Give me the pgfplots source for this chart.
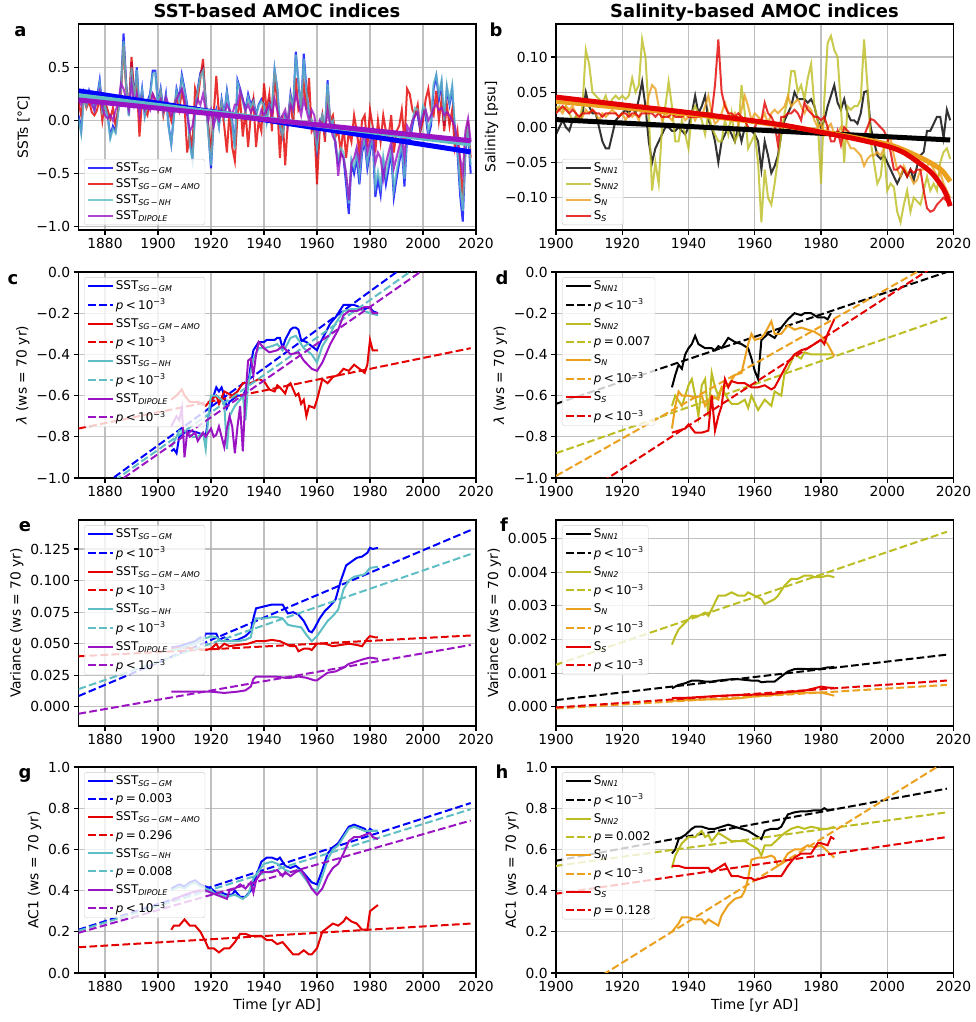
\documentclass[border=0pt]{standalone}
\usepackage{fontspec}
\setmainfont{DejaVu Sans}
\usepackage{pgfplots}
\pgfplotsset{compat=1.18}
\usepackage{pgfplotstable}

\definecolor{cblue}{RGB}{0,0,255}
\definecolor{cred}{RGB}{228,0,0}
\definecolor{ccyan}{RGB}{95,190,195}
\definecolor{cpurp}{RGB}{155,20,195}
\definecolor{colive}{RGB}{188,189,34}
\definecolor{corange}{RGB}{235,160,30}
\definecolor{gridc}{RGB}{176,176,176}
\definecolor{legc}{RGB}{204,204,204}

\newcommand{\ticksize}{\fontsize{13.9}{16}\selectfont}
\newcommand{\legsize}{\fontsize{12}{13.5}\selectfont}
\newcommand{\sub}[1]{\textsubscript{\itshape #1}}
\newcommand{\plt}{\textit{p}\hspace{0.2em}<\hspace{0.2em}10\textsuperscript{−3}}
\newcommand{\peq}[1]{\textit{p}\hspace{0.2em}=\hspace{0.2em}#1}

\pgfplotstableread{
year blue red cyan purple
1870 0.05 0.18 0.02 0.20
1871 -0.10 0.05 -0.12 0.15
1872 0.25 0.22 0.22 0.25
1873 0.15 0.12 0.14 0.18
1874 0.28 0.18 0.26 0.22
1875 0.20 0.08 0.18 0.15
1876 0.10 0.05 0.10 0.10
1877 0.22 0.10 0.20 0.20
1878 0.38 0.22 0.35 0.28
1879 0.10 0.00 0.08 0.12
1880 0.15 0.18 0.14 0.05
1881 0.05 0.10 0.04 0.02
1882 -0.15 0.02 -0.17 0.05
1883 -0.05 0.12 -0.08 0.00
1884 -0.10 -0.05 -0.12 0.10
1885 0.10 0.12 0.08 0.15
1886 0.30 0.25 0.28 0.35
1887 0.82 0.70 0.75 0.30
1888 0.35 0.30 0.32 0.20
1889 0.05 0.10 0.04 0.10
1890 0.55 0.60 0.50 0.35
1891 0.20 0.25 0.18 0.15
1892 0.50 0.35 0.48 0.25
1893 0.10 -0.15 0.08 0.05
1894 0.30 0.20 0.28 0.20
1895 0.05 0.10 0.04 0.10
1896 0.18 0.05 0.16 0.15
1897 0.25 0.20 0.22 0.10
1898 0.47 0.25 0.44 0.25
1899 0.47 0.18 0.45 0.20
1900 0.15 0.10 0.14 0.15
1901 0.30 0.25 0.28 0.20
1902 0.10 0.05 0.08 0.10
1903 0.25 0.18 0.22 0.22
1904 -0.05 0.10 -0.06 0.15
1905 -0.22 0.00 -0.22 0.05
1906 0.05 0.15 0.04 0.10
1907 0.30 0.22 0.28 0.20
1908 0.20 0.10 0.18 0.25
1909 0.43 0.28 0.40 0.30
1910 0.30 0.15 0.28 0.20
1911 0.15 -0.30 0.12 0.05
1912 -0.20 -0.12 -0.22 -0.10
1913 -0.35 -0.25 -0.38 -0.05
1914 0.10 0.30 0.08 0.10
1915 0.30 0.20 0.28 0.20
1916 0.45 0.40 0.42 0.15
1917 0.50 0.58 0.47 0.25
1918 0.20 0.15 0.18 0.10
1919 -0.10 -0.05 -0.12 0.00
1920 -0.45 -0.30 -0.42 0.10
1921 0.00 0.05 -0.02 -0.05
1922 0.10 0.42 0.08 0.05
1923 -0.05 0.05 -0.06 0.00
1924 0.20 0.15 0.18 0.10
1925 0.05 -0.05 0.04 0.05
1926 0.28 -0.30 0.26 0.15
1927 0.10 0.10 0.08 0.10
1928 0.00 -0.25 -0.02 0.05
1929 -0.25 -0.38 -0.27 0.15
1930 0.38 0.05 0.36 0.15
1931 0.30 0.20 0.28 0.28
1932 0.20 -0.15 0.18 0.20
1933 0.10 0.10 0.08 0.10
1934 0.25 -0.25 0.22 0.15
1935 0.15 0.05 0.13 0.08
1936 0.20 0.20 0.18 0.12
1937 0.05 -0.25 0.04 0.05
1938 0.15 0.00 0.14 0.00
1939 0.20 -0.10 0.18 0.10
1940 0.15 0.35 0.14 0.05
1941 0.00 0.10 -0.02 0.10
1942 0.18 0.25 0.16 0.15
1943 0.10 -0.10 0.12 0.05
1944 0.48 0.45 0.48 0.20
1945 0.30 0.15 0.30 0.10
1946 -0.05 -0.35 -0.04 0.00
1947 -0.15 0.05 -0.14 0.05
1948 0.05 -0.42 0.04 0.10
1949 0.00 0.00 0.00 -0.05
1950 0.25 0.20 0.22 0.15
1951 0.10 -0.05 0.10 0.10
1952 0.65 0.40 0.62 0.25
1953 0.35 0.10 0.38 0.15
1954 0.10 0.15 0.10 0.05
1955 0.63 0.35 0.58 0.20
1956 0.30 0.10 0.28 0.10
1957 0.05 0.40 0.05 0.00
1958 0.00 -0.10 0.00 0.10
1959 -0.10 -0.05 -0.08 0.05
1960 -0.30 -0.60 -0.26 -0.15
1961 -0.05 -0.10 -0.04 0.00
1962 0.05 0.05 0.05 -0.05
1963 -0.10 -0.20 -0.08 -0.10
1964 0.38 0.25 0.35 0.10
1965 -0.05 0.00 -0.04 -0.05
1966 0.00 0.05 0.00 -0.15
1967 -0.25 -0.15 -0.22 -0.20
1968 -0.40 -0.10 -0.36 -0.52
1969 -0.30 -0.30 -0.26 -0.30
1970 -0.35 -0.05 -0.30 -0.35
1971 -0.60 -0.35 -0.52 -0.50
1972 -0.88 -0.10 -0.78 -0.75
1973 -0.40 -0.20 -0.36 -0.40
1974 -0.50 0.05 -0.44 -0.35
1975 -0.35 -0.10 -0.30 -0.25
1976 -0.60 -0.30 -0.52 -0.40
1977 -0.30 0.00 -0.26 -0.20
1978 -0.20 0.05 -0.16 -0.10
1979 -0.45 -0.25 -0.40 -0.30
1980 -0.30 0.10 -0.26 -0.20
1981 -0.15 -0.05 -0.12 -0.10
1982 -0.72 -0.30 -0.62 -0.40
1983 -0.55 0.00 -0.48 -0.30
1984 -0.70 -0.20 -0.62 -0.35
1985 -0.40 0.05 -0.34 -0.55
1986 -0.60 -0.10 -0.52 -0.40
1987 -0.45 -0.15 -0.38 -0.30
1988 -0.30 0.05 -0.26 -0.20
1989 -0.72 -0.30 -0.65 -0.45
1990 -0.55 -0.10 -0.48 -0.35
1991 -0.40 -0.05 -0.34 -0.25
1992 -0.25 0.10 -0.20 -0.15
1993 -0.62 -0.20 -0.55 -0.35
1994 -0.15 0.30 -0.10 -0.05
1995 -0.20 0.25 -0.14 -0.10
1996 -0.05 0.10 0.00 0.00
1997 0.08 0.05 0.12 0.05
1998 0.05 0.15 0.10 0.08
1999 -0.10 -0.10 -0.05 -0.05
2000 0.10 0.00 0.14 0.05
2001 0.05 0.20 0.10 0.10
2002 -0.15 0.30 -0.10 0.00
2003 -0.05 0.10 0.00 0.05
2004 0.30 0.05 0.35 0.12
2005 0.42 0.28 0.43 0.15
2006 0.20 0.00 0.25 0.10
2007 0.35 0.20 0.38 0.12
2008 -0.05 -0.10 0.00 0.05
2009 0.30 0.15 0.33 0.08
2010 0.15 -0.05 0.18 0.05
2011 0.30 0.10 0.33 0.00
2012 -0.10 -0.25 -0.05 -0.05
2013 -0.30 -0.10 -0.25 -0.20
2014 -0.70 -0.40 -0.62 -0.35
2015 -0.95 -0.75 -0.85 -0.50
2016 -0.30 -0.20 -0.25 -0.10
2017 -0.10 0.00 -0.05 0.02
2018 -0.50 -0.35 -0.42 -0.20
}\tabA

\pgfplotstableread{
year nn1 nn2 sn ss
1900 -0.010 0.020 0.030 0.020
1901 0.000 0.030 0.025 0.025
1902 0.010 0.025 0.020 0.030
1903 0.000 0.030 0.030 0.025
1904 -0.005 0.020 0.025 0.020
1905 0.010 0.010 0.030 0.025
1906 0.015 0.015 0.020 0.020
1907 0.010 0.010 0.010 0.015
1908 0.020 0.030 0.015 0.020
1909 0.050 0.110 0.025 0.020
1910 0.030 0.090 0.020 0.020
1911 0.020 0.050 0.025 0.025
1912 0.020 0.045 0.020 0.020
1913 0.000 0.040 0.010 0.020
1914 -0.020 0.035 0.020 0.015
1915 -0.030 0.045 0.015 0.020
1916 -0.030 0.030 0.020 0.020
1917 -0.010 0.040 0.025 0.020
1918 0.010 0.045 0.020 0.020
1919 0.015 0.040 0.015 0.015
1920 0.020 0.045 0.020 0.020
1921 0.025 0.040 0.010 0.020
1922 0.020 0.045 0.020 0.015
1923 0.030 0.070 0.015 0.020
1924 0.020 0.050 0.020 0.020
1925 0.040 0.060 0.010 0.015
1926 0.065 0.125 0.030 0.020
1927 0.030 0.100 0.020 0.020
1928 -0.020 0.020 0.045 0.020
1929 -0.050 -0.090 0.060 0.020
1930 -0.030 -0.050 0.055 0.015
1931 -0.020 -0.080 0.030 0.020
1932 -0.010 0.000 0.010 0.015
1933 0.000 0.030 0.020 0.015
1934 0.000 0.065 0.015 0.015
1935 -0.005 0.030 0.010 0.020
1936 -0.005 -0.020 0.020 0.015
1937 0.000 -0.020 0.015 0.015
1938 -0.005 0.010 0.020 0.015
1939 -0.010 -0.010 0.010 0.020
1940 0.000 -0.030 0.015 0.015
1941 0.020 0.020 0.020 0.015
1942 0.045 0.030 0.010 0.015
1943 0.020 0.020 0.020 0.015
1944 0.030 0.010 0.015 0.015
1945 0.045 -0.010 0.030 0.015
1946 0.010 0.020 0.045 0.020
1947 0.000 0.000 0.020 0.020
1948 -0.020 -0.010 0.005 0.060
1949 -0.050 -0.020 0.010 0.125
1950 -0.020 -0.020 0.020 0.050
1951 -0.010 0.010 0.035 0.030
1952 0.000 -0.010 0.020 0.020
1953 -0.010 0.020 0.010 0.020
1954 -0.020 -0.020 0.020 0.015
1955 0.000 -0.010 0.005 0.020
1956 -0.020 0.060 0.025 0.015
1957 0.000 0.020 0.045 0.010
1958 0.000 -0.030 0.030 0.000
1959 -0.005 -0.020 0.010 -0.005
1960 -0.010 -0.010 0.020 0.000
1961 -0.020 -0.050 0.015 0.010
1962 -0.060 -0.135 0.010 0.010
1963 -0.020 -0.060 0.020 0.035
1964 -0.040 -0.100 0.005 0.020
1965 -0.065 -0.110 0.020 0.015
1966 -0.055 -0.080 0.025 0.005
1967 -0.040 -0.045 0.020 -0.025
1968 -0.010 -0.010 0.025 0.015
1969 0.010 0.020 0.030 0.015
1970 0.020 0.040 0.045 0.020
1971 0.030 0.080 0.030 0.020
1972 0.050 0.080 0.035 0.025
1973 0.040 0.050 0.040 0.020
1974 0.040 0.060 0.030 0.010
1975 0.040 0.040 0.020 0.035
1976 0.035 0.070 0.030 0.025
1977 0.040 0.090 0.025 0.020
1978 0.030 0.030 0.010 0.015
1979 0.010 0.010 0.000 0.015
1980 0.000 -0.080 0.005 0.010
1981 0.010 0.040 -0.010 0.015
1982 0.030 0.120 0.000 0.000
1983 0.045 0.130 0.005 -0.020
1984 0.060 0.110 -0.010 -0.020
1985 0.035 0.100 -0.010 -0.005
1986 0.025 0.030 0.000 -0.025
1987 0.040 -0.050 -0.010 0.000
1988 0.020 0.030 -0.020 -0.005
1989 0.010 0.025 -0.030 -0.010
1990 0.010 0.030 -0.030 -0.010
1991 0.005 0.030 -0.035 -0.012
1992 0.020 0.040 -0.040 -0.010
1993 0.050 0.125 -0.055 -0.012
1994 0.052 0.060 -0.045 0.000
1995 0.000 -0.020 -0.040 0.012
1996 -0.020 -0.050 -0.040 0.010
1997 -0.040 -0.080 -0.035 0.005
1998 -0.045 -0.070 -0.040 0.000
1999 -0.040 -0.030 -0.030 -0.005
2000 -0.050 -0.090 -0.020 -0.015
2001 -0.060 -0.080 -0.015 -0.035
2002 -0.070 -0.085 -0.040 -0.060
2003 -0.080 -0.120 -0.060 -0.060
2004 -0.070 -0.135 -0.070 -0.055
2005 -0.060 -0.110 -0.055 -0.060
2006 -0.070 -0.090 -0.065 -0.070
2007 -0.060 -0.120 -0.070 -0.060
2008 -0.075 -0.100 -0.080 -0.065
2009 -0.055 -0.105 -0.075 -0.060
2010 -0.040 -0.110 -0.060 -0.060
2011 -0.035 -0.090 -0.060 -0.090
2012 -0.005 -0.070 -0.055 -0.115
2013 -0.005 -0.090 -0.050 -0.120
2014 0.005 -0.080 -0.060 -0.118
2015 0.015 -0.090 -0.070 -0.110
2016 0.015 -0.050 -0.065 -0.105
2017 -0.015 -0.035 -0.080 -0.100
2018 0.025 -0.030 -0.090 -0.105
2019 0.010 -0.045 -0.100 -0.110
}\tabB

\pgfplotsset{
  myaxis/.style={
    scale only axis, width=397.5bp, height=206bp, anchor=south west,
    axis line style={line width=1.1bp, black},
    grid=major, major grid style={line width=1.1bp, draw=gridc},
    tick align=outside, tick pos=left, major tick length=4.9bp,
    tick style={black, line width=1.1bp},
    tick label style={font=\ticksize},
    label style={font=\ticksize},
    scaled ticks=false,
    legend cell align=left,
    legend style={draw=legc, fill=white, fill opacity=0.8, draw opacity=1, text opacity=1,
      rounded corners=2.5bp, font=\legsize, inner xsep=3bp, inner ysep=2bp, row sep=4.5bp,
      nodes={inner sep=1.6bp}},
    legend image code/.code={\draw[##1] (0bp,0bp) -- (25bp,0bp);},
  },
  leftcol/.style={xmin=1870, xmax=2020, xtick={1880,1900,1920,1940,1960,1980,2000,2020},
    xticklabels={1880,1900,1920,1940,1960,1980,2000,2020}},
  rightcol/.style={xmin=1900, xmax=2020, xtick={1900,1920,1940,1960,1980,2000,2020},
    xticklabels={1900,1920,1940,1960,1980,2000,2020}},
  ser/.style={line width=2bp, #1},
  fit/.style={line width=2bp, dash pattern=on 7.7bp off 3.3bp, #1},
  thin/.style={line width=2bp, opacity=0.8, #1},
  thick/.style={line width=5bp, #1},
  legUL/.style={legend style={at={(0.014,0.975)}, anchor=north west}},
}

\begin{document}
\begin{tikzpicture}[x=1bp, y=1bp]
\path[use as bounding box] (0,0) rectangle (976,1022);

% ---------------- a
\begin{axis}[myaxis, leftcol, at={(78.5bp,792bp)}, ymin=-1.03, ymax=0.91,
  ytick={-1,-0.5,0,0.5}, yticklabels={−1.0,−0.5,0.0,0.5},
  ylabel={SSTs [°C]},
  legend style={at={(0.014,0.024)}, anchor=south west, row sep=2.5bp}]
\addplot[thin=cblue] table[x=year,y=blue] {\tabA}; \addlegendentry{SST\sub{SG\,−\,GM}}
\addplot[thin=cred] table[x=year,y=red] {\tabA}; \addlegendentry{SST\sub{SG\,−\,GM\,−\,AMO}}
\addplot[thin=ccyan] table[x=year,y=cyan] {\tabA}; \addlegendentry{SST\sub{SG\,−\,NH}}
\addplot[thin=cpurp] table[x=year,y=purple] {\tabA}; \addlegendentry{SST\sub{DIPOLE}}
\addplot[thick=cblue, forget plot] coordinates {(1870,0.28) (2018,-0.295)};
\addplot[thick=ccyan, forget plot] coordinates {(1870,0.235) (2018,-0.22)};
\addplot[thick=cpurp, forget plot] coordinates {(1870,0.195) (2018,-0.19)};
\end{axis}

% ---------------- b
\begin{axis}[myaxis, rightcol, at={(556bp,792bp)}, ymin=-0.146, ymax=0.147,
  ytick={-0.1,-0.05,0,0.05,0.1}, yticklabels={−0.10,−0.05,0.00,0.05,0.10},
  ylabel={Salinity [psu]},
  legend style={at={(0.015,0.024)}, anchor=south west, row sep=2.5bp}]
\addplot[thin=black] table[x=year,y=nn1] {\tabB}; \addlegendentry{S\sub{NN1}}
\addplot[thin=colive] table[x=year,y=nn2] {\tabB}; \addlegendentry{S\sub{NN2}}
\addplot[thin=corange] table[x=year,y=sn] {\tabB}; \addlegendentry{S\sub{N}}
\addplot[thin=cred] table[x=year,y=ss] {\tabB}; \addlegendentry{S\sub{S}}
\addplot[thick=black, forget plot] coordinates {(1900,0.011) (2019,-0.018)};
\addplot[thick=corange, forget plot, smooth] coordinates {(1900,0.037) (1920,0.028) (1940,0.019) (1960,0.008) (1980,-0.006) (2000,-0.024) (2010,-0.043) (2015,-0.056) (2017,-0.064) (2019,-0.077)};
\addplot[thick=cred, forget plot, smooth] coordinates {(1900,0.043) (1920,0.032) (1940,0.021) (1960,0.009) (1970,0.002) (1980,-0.007) (1990,-0.016) (2000,-0.027) (2005,-0.036) (2010,-0.052) (2013,-0.063) (2015,-0.074) (2017,-0.088) (2018,-0.098) (2019,-0.112)};
\end{axis}

% ---------------- c
\begin{axis}[myaxis, leftcol, legUL, at={(78.5bp,544bp)}, ymin=-1, ymax=0,
  ytick={-1,-0.8,-0.6,-0.4,-0.2,0}, yticklabels={−1.0,−0.8,−0.6,−0.4,−0.2,0.0},
  ylabel={\textit{λ} (ws = 70 yr)}]
\addplot[ser=cblue] coordinates {(1905,-0.87)(1906,-0.86)(1907,-0.88)(1908,-0.80)(1910,-0.78)(1912,-0.77)(1915,-0.78)(1917,-0.79)(1918,-0.80)(1919,-0.70)(1920,-0.65)(1921,-0.60)(1922,-0.56)(1923,-0.58)(1924,-0.56)(1925,-0.60)(1926,-0.66)(1927,-0.63)(1928,-0.62)(1930,-0.60)(1932,-0.60)(1934,-0.55)(1935,-0.45)(1936,-0.38)(1937,-0.36)(1938,-0.34)(1940,-0.34)(1941,-0.33)(1942,-0.33)(1944,-0.33)(1945,-0.32)(1946,-0.32)(1947,-0.37)(1948,-0.33)(1950,-0.28)(1951,-0.27)(1952,-0.27)(1953,-0.28)(1954,-0.33)(1956,-0.34)(1958,-0.36)(1960,-0.38)(1961,-0.35)(1963,-0.30)(1965,-0.25)(1967,-0.22)(1969,-0.18)(1970,-0.16)(1972,-0.16)(1974,-0.16)(1976,-0.17)(1978,-0.18)(1980,-0.17)(1981,-0.19)(1983,-0.20)};
\addlegendentry{SST\sub{SG\,−\,GM}}
\addplot[fit=cblue] coordinates {(1870,-1.122) (2018,0.261)}; \addlegendentry{\plt}
\addplot[ser=cred] coordinates {(1905,-0.62)(1907,-0.60)(1909,-0.57)(1910,-0.60)(1912,-0.63)(1915,-0.63)(1918,-0.65)(1920,-0.62)(1922,-0.60)(1923,-0.64)(1925,-0.58)(1928,-0.60)(1930,-0.58)(1932,-0.54)(1935,-0.54)(1938,-0.52)(1940,-0.53)(1942,-0.57)(1944,-0.58)(1945,-0.55)(1946,-0.56)(1948,-0.59)(1949,-0.55)(1950,-0.54)(1952,-0.60)(1953,-0.59)(1954,-0.64)(1955,-0.62)(1956,-0.70)(1957,-0.65)(1959,-0.66)(1960,-0.62)(1962,-0.52)(1964,-0.54)(1966,-0.51)(1968,-0.50)(1970,-0.47)(1972,-0.48)(1974,-0.45)(1976,-0.47)(1978,-0.49)(1979,-0.45)(1980,-0.33)(1981,-0.38)(1983,-0.38)};
\addlegendentry{SST\sub{SG\,−\,GM\,−\,AMO}}
\addplot[fit=cred] coordinates {(1870,-0.76) (2018,-0.37)}; \addlegendentry{\plt}
\addplot[ser=ccyan] coordinates {(1905,-0.85)(1907,-0.80)(1908,-0.77)(1910,-0.77)(1913,-0.80)(1915,-0.80)(1917,-0.78)(1918,-0.86)(1919,-0.70)(1920,-0.60)(1922,-0.60)(1924,-0.62)(1925,-0.64)(1926,-0.86)(1927,-0.70)(1929,-0.65)(1931,-0.62)(1932,-0.60)(1933,-0.72)(1934,-0.55)(1936,-0.42)(1938,-0.37)(1940,-0.37)(1943,-0.36)(1945,-0.35)(1947,-0.38)(1948,-0.37)(1950,-0.32)(1952,-0.31)(1953,-0.33)(1955,-0.37)(1958,-0.40)(1960,-0.44)(1962,-0.36)(1965,-0.30)(1967,-0.25)(1970,-0.19)(1973,-0.18)(1976,-0.18)(1978,-0.19)(1980,-0.20)(1983,-0.21)};
\addlegendentry{SST\sub{SG\,−\,NH}}
\addplot[fit=ccyan] coordinates {(1870,-1.136) (2018,0.209)}; \addlegendentry{\plt}
\addplot[ser=cpurp] coordinates {(1905,-0.75)(1907,-0.70)(1908,-0.72)(1909,-0.66)(1910,-0.90)(1911,-0.78)(1912,-0.80)(1914,-0.78)(1915,-0.82)(1917,-0.78)(1918,-0.80)(1920,-0.76)(1921,-0.80)(1922,-0.79)(1923,-0.75)(1924,-0.80)(1925,-0.85)(1926,-0.76)(1927,-0.70)(1928,-0.75)(1929,-0.88)(1930,-0.75)(1931,-0.65)(1932,-0.87)(1933,-0.60)(1934,-0.43)(1935,-0.42)(1936,-0.50)(1937,-0.40)(1938,-0.34)(1940,-0.37)(1942,-0.39)(1945,-0.38)(1947,-0.36)(1950,-0.40)(1953,-0.39)(1955,-0.43)(1958,-0.47)(1960,-0.48)(1962,-0.44)(1965,-0.35)(1968,-0.28)(1970,-0.21)(1972,-0.19)(1975,-0.19)(1978,-0.17)(1980,-0.17)(1981,-0.20)(1983,-0.20)};
\addlegendentry{SST\sub{DIPOLE}}
\addplot[fit=cpurp] coordinates {(1870,-1.152) (2018,0.170)}; \addlegendentry{\plt}
\end{axis}

% ---------------- d
\begin{axis}[myaxis, rightcol, legUL, at={(556bp,544bp)}, ymin=-1, ymax=0,
  legend style={at={(0.015,0.975)}},
  ytick={-1,-0.8,-0.6,-0.4,-0.2,0}, yticklabels={−1.0,−0.8,−0.6,−0.4,−0.2,0.0},
  ylabel={\textit{λ} (ws = 70 yr)}]
\addplot[ser=black] coordinates {(1935,-0.56)(1936,-0.50)(1937,-0.45)(1938,-0.47)(1939,-0.40)(1940,-0.37)(1941,-0.35)(1942,-0.31)(1943,-0.35)(1945,-0.37)(1947,-0.37)(1948,-0.38)(1949,-0.36)(1950,-0.37)(1952,-0.32)(1954,-0.34)(1956,-0.35)(1958,-0.37)(1959,-0.42)(1960,-0.48)(1961,-0.52)(1962,-0.33)(1964,-0.30)(1966,-0.32)(1968,-0.27)(1970,-0.23)(1972,-0.20)(1974,-0.21)(1975,-0.20)(1977,-0.20)(1979,-0.22)(1981,-0.22)(1982,-0.23)(1983,-0.20)};
\addlegendentry{S\sub{NN1}}
\addplot[fit=black] coordinates {(1900,-0.64) (2018,0.0)}; \addlegendentry{\plt}
\addplot[ser=colive] coordinates {(1935,-0.65)(1936,-0.60)(1938,-0.65)(1940,-0.55)(1941,-0.52)(1942,-0.60)(1943,-0.70)(1944,-0.55)(1945,-0.52)(1946,-0.70)(1947,-0.49)(1948,-0.56)(1949,-0.60)(1950,-0.56)(1952,-0.62)(1953,-0.64)(1955,-0.64)(1957,-0.62)(1958,-0.66)(1959,-0.60)(1961,-0.67)(1963,-0.62)(1965,-0.65)(1966,-0.58)(1968,-0.60)(1969,-0.49)(1970,-0.47)(1972,-0.40)(1974,-0.42)(1975,-0.39)(1977,-0.40)(1980,-0.40)(1982,-0.40)(1984,-0.40)};
\addlegendentry{S\sub{NN2}}
\addplot[fit=colive] coordinates {(1900,-0.88) (2018,-0.22)}; \addlegendentry{\peq{0.007}}
\addplot[ser=corange] coordinates {(1935,-0.76)(1936,-0.65)(1937,-0.58)(1938,-0.60)(1940,-0.60)(1942,-0.61)(1944,-0.60)(1945,-0.65)(1947,-0.60)(1949,-0.62)(1950,-0.56)(1952,-0.55)(1954,-0.50)(1956,-0.49)(1957,-0.42)(1958,-0.35)(1959,-0.30)(1960,-0.33)(1962,-0.32)(1963,-0.30)(1965,-0.24)(1966,-0.30)(1968,-0.30)(1970,-0.26)(1972,-0.28)(1974,-0.27)(1976,-0.28)(1978,-0.29)(1980,-0.31)(1982,-0.35)(1984,-0.41)};
\addlegendentry{S\sub{N}}
\addplot[fit=corange] coordinates {(1900,-0.99) (2018,0.082)}; \addlegendentry{\plt}
\addplot[ser=cred] coordinates {(1935,-0.78)(1937,-0.77)(1939,-0.76)(1940,-0.74)(1942,-0.78)(1944,-0.78)(1946,-0.77)(1947,-0.60)(1948,-0.77)(1949,-0.70)(1950,-0.65)(1951,-0.52)(1952,-0.56)(1953,-0.53)(1955,-0.54)(1957,-0.54)(1959,-0.56)(1961,-0.56)(1963,-0.55)(1965,-0.57)(1966,-0.56)(1968,-0.50)(1970,-0.44)(1972,-0.40)(1974,-0.38)(1976,-0.37)(1978,-0.35)(1980,-0.33)(1981,-0.35)(1982,-0.30)(1984,-0.23)};
\addlegendentry{S\sub{S}}
\addplot[fit=cred] coordinates {(1900,-1.164) (2018,0.068)}; \addlegendentry{\plt}
\end{axis}

% ---------------- e
\begin{axis}[myaxis, leftcol, legUL, at={(78.5bp,296bp)}, ymin=-0.0152, ymax=0.148,
  ytick={0,0.025,0.05,0.075,0.1,0.125}, yticklabels={0.000,0.025,0.050,0.075,0.100,0.125},
  ylabel={Variance (ws = 70 yr)}]
\addplot[ser=cblue] coordinates {(1905,0.047)(1908,0.048)(1911,0.050)(1914,0.052)(1916,0.055)(1917,0.053)(1918,0.058)(1920,0.058)(1922,0.058)(1923,0.053)(1925,0.055)(1927,0.052)(1930,0.053)(1933,0.056)(1935,0.060)(1936,0.070)(1937,0.078)(1939,0.079)(1941,0.080)(1943,0.081)(1945,0.081)(1947,0.081)(1949,0.074)(1951,0.075)(1953,0.073)(1955,0.068)(1957,0.060)(1958,0.059)(1959,0.062)(1961,0.070)(1963,0.076)(1965,0.080)(1967,0.085)(1969,0.100)(1971,0.112)(1973,0.115)(1975,0.118)(1977,0.119)(1979,0.122)(1980,0.126)(1981,0.125)(1983,0.126)};
\addlegendentry{SST\sub{SG\,−\,GM}}
\addplot[fit=cblue] coordinates {(1870,0.0085) (2018,0.140)}; \addlegendentry{\plt}
\addplot[ser=cred] coordinates {(1905,0.046)(1910,0.047)(1915,0.046)(1918,0.045)(1920,0.046)(1922,0.050)(1923,0.046)(1925,0.050)(1927,0.048)(1930,0.049)(1934,0.050)(1937,0.052)(1940,0.052)(1943,0.053)(1946,0.052)(1948,0.050)(1950,0.048)(1952,0.048)(1953,0.044)(1955,0.046)(1957,0.046)(1958,0.045)(1960,0.050)(1963,0.050)(1966,0.048)(1969,0.049)(1972,0.050)(1975,0.049)(1977,0.048)(1979,0.054)(1980,0.056)(1982,0.055)(1983,0.055)};
\addlegendentry{SST\sub{SG\,−\,GM\,−\,AMO}}
\addplot[fit=cred] coordinates {(1870,0.040) (2018,0.0565)}; \addlegendentry{\plt}
\addplot[ser=ccyan] coordinates {(1905,0.045)(1908,0.046)(1911,0.048)(1914,0.050)(1917,0.054)(1919,0.055)(1920,0.056)(1922,0.055)(1924,0.052)(1927,0.052)(1930,0.052)(1933,0.053)(1935,0.055)(1936,0.065)(1937,0.070)(1940,0.070)(1943,0.071)(1945,0.071)(1947,0.070)(1949,0.065)(1951,0.064)(1954,0.063)(1956,0.057)(1958,0.052)(1960,0.056)(1962,0.062)(1964,0.068)(1966,0.072)(1968,0.077)(1970,0.093)(1972,0.100)(1974,0.103)(1976,0.104)(1978,0.105)(1980,0.110)(1983,0.111)};
\addlegendentry{SST\sub{SG\,−\,NH}}
\addplot[fit=ccyan] coordinates {(1870,0.014) (2018,0.121)}; \addlegendentry{\plt}
\addplot[ser=cpurp] coordinates {(1905,0.012)(1910,0.012)(1915,0.012)(1918,0.012)(1920,0.012)(1925,0.011)(1930,0.012)(1933,0.013)(1935,0.016)(1936,0.022)(1937,0.024)(1940,0.024)(1944,0.024)(1948,0.023)(1950,0.023)(1953,0.024)(1956,0.023)(1959,0.021)(1960,0.021)(1962,0.024)(1964,0.027)(1967,0.028)(1970,0.031)(1972,0.034)(1975,0.036)(1978,0.038)(1980,0.039)(1983,0.038)};
\addlegendentry{SST\sub{DIPOLE}}
\addplot[fit=cpurp] coordinates {(1870,-0.0055) (2018,0.049)}; \addlegendentry{\plt}
\end{axis}

% ---------------- f
\begin{axis}[myaxis, rightcol, legUL, at={(556bp,296bp)}, ymin=-0.00057, ymax=0.00555,
  legend style={at={(0.015,0.975)}},
  ytick={0,0.001,0.002,0.003,0.004,0.005}, yticklabels={0.000,0.001,0.002,0.003,0.004,0.005},
  ylabel={Variance (ws = 70 yr)}]
\addplot[ser=black] coordinates {(1935,0.00055)(1937,0.00065)(1939,0.00070)(1941,0.00078)(1943,0.00078)(1945,0.00075)(1947,0.00075)(1949,0.00078)(1951,0.00080)(1953,0.00082)(1955,0.00082)(1957,0.00080)(1959,0.00078)(1961,0.00078)(1962,0.00073)(1964,0.00075)(1966,0.00075)(1968,0.00090)(1970,0.00105)(1972,0.00112)(1974,0.00113)(1976,0.00112)(1978,0.00113)(1980,0.00113)(1982,0.00117)(1984,0.00118)};
\addlegendentry{S\sub{NN1}}
\addplot[fit=black] coordinates {(1900,0.0002) (2018,0.00155)}; \addlegendentry{\plt}
\addplot[ser=colive] coordinates {(1935,0.00185)(1936,0.0021)(1937,0.0023)(1939,0.0025)(1940,0.0026)(1941,0.0027)(1943,0.0027)(1945,0.0028)(1946,0.0027)(1947,0.0029)(1949,0.0033)(1951,0.0033)(1953,0.0034)(1955,0.0033)(1957,0.0033)(1958,0.0034)(1960,0.0033)(1962,0.0032)(1963,0.00305)(1964,0.0031)(1966,0.0032)(1967,0.0033)(1969,0.0036)(1971,0.0038)(1973,0.0038)(1975,0.0039)(1977,0.0039)(1978,0.00385)(1980,0.00385)(1982,0.0039)(1984,0.00385)};
\addlegendentry{S\sub{NN2}}
\addplot[fit=colive] coordinates {(1900,0.00125) (2018,0.0052)}; \addlegendentry{\plt}
\addplot[ser=corange] coordinates {(1935,0.00018)(1940,0.00020)(1945,0.00022)(1950,0.00022)(1955,0.00025)(1960,0.00031)(1965,0.00035)(1970,0.00040)(1975,0.00042)(1980,0.00042)(1982,0.00038)(1984,0.00033)};
\addlegendentry{S\sub{N}}
\addplot[fit=corange] coordinates {(1900,-0.00005) (2018,0.00065)}; \addlegendentry{\plt}
\addplot[ser=cred] coordinates {(1935,0.00026)(1940,0.00027)(1945,0.00030)(1950,0.00033)(1955,0.00035)(1960,0.00036)(1965,0.00038)(1970,0.00044)(1975,0.00048)(1978,0.00055)(1980,0.00060)(1982,0.00057)(1984,0.00056)};
\addlegendentry{S\sub{S}}
\addplot[fit=cred] coordinates {(1900,-0.00002) (2018,0.00078)}; \addlegendentry{\plt}
\end{axis}

% ---------------- g
\begin{axis}[myaxis, leftcol, legUL, at={(78.5bp,49bp)}, ymin=0, ymax=1,
  ytick={0,0.2,0.4,0.6,0.8,1}, yticklabels={0.0,0.2,0.4,0.6,0.8,1.0},
  ylabel={AC1 (ws = 70 yr)}, xlabel={Time [yr AD]}]
\addplot[ser=cblue] coordinates {(1905,0.41)(1908,0.43)(1910,0.42)(1912,0.44)(1914,0.45)(1916,0.43)(1918,0.42)(1920,0.41)(1922,0.39)(1924,0.39)(1926,0.38)(1928,0.38)(1929,0.40)(1931,0.37)(1933,0.37)(1935,0.40)(1937,0.47)(1939,0.54)(1941,0.56)(1943,0.56)(1945,0.55)(1946,0.56)(1948,0.52)(1950,0.51)(1952,0.52)(1954,0.50)(1956,0.47)(1958,0.44)(1960,0.43)(1962,0.50)(1964,0.58)(1966,0.61)(1968,0.63)(1970,0.67)(1972,0.71)(1974,0.72)(1976,0.71)(1978,0.70)(1979,0.68)(1980,0.70)(1981,0.69)(1983,0.69)};
\addlegendentry{SST\sub{SG\,−\,GM}}
\addplot[fit=cblue] coordinates {(1870,0.21) (2018,0.825)}; \addlegendentry{\peq{0.003}}
\addplot[ser=cred] coordinates {(1905,0.21)(1906,0.23)(1908,0.23)(1910,0.26)(1912,0.23)(1914,0.23)(1916,0.20)(1918,0.15)(1919,0.12)(1921,0.12)(1923,0.10)(1925,0.12)(1927,0.12)(1929,0.15)(1931,0.19)(1933,0.19)(1935,0.18)(1937,0.18)(1939,0.18)(1941,0.16)(1943,0.16)(1945,0.14)(1947,0.15)(1949,0.12)(1951,0.09)(1953,0.09)(1955,0.11)(1957,0.09)(1958,0.09)(1960,0.12)(1962,0.20)(1964,0.22)(1966,0.24)(1968,0.23)(1970,0.25)(1971,0.27)(1973,0.25)(1975,0.24)(1977,0.21)(1979,0.21)(1980,0.30)(1982,0.32)(1983,0.33)};
\addlegendentry{SST\sub{SG\,−\,GM\,−\,AMO}}
\addplot[fit=cred] coordinates {(1870,0.125) (2018,0.24)}; \addlegendentry{\peq{0.296}}
\addplot[ser=ccyan] coordinates {(1905,0.40)(1908,0.42)(1910,0.41)(1912,0.43)(1914,0.44)(1916,0.42)(1918,0.41)(1920,0.40)(1922,0.38)(1924,0.38)(1926,0.37)(1929,0.38)(1932,0.36)(1934,0.38)(1936,0.46)(1940,0.53)(1943,0.54)(1945,0.53)(1948,0.50)(1950,0.49)(1953,0.50)(1956,0.45)(1958,0.41)(1960,0.40)(1962,0.47)(1964,0.55)(1966,0.60)(1968,0.62)(1970,0.66)(1972,0.70)(1974,0.71)(1976,0.70)(1978,0.69)(1980,0.69)(1983,0.69)};
\addlegendentry{SST\sub{SG\,−\,NH}}
\addplot[fit=ccyan] coordinates {(1870,0.205) (2018,0.795)}; \addlegendentry{\peq{0.008}}
\addplot[ser=cpurp] coordinates {(1905,0.35)(1910,0.38)(1915,0.40)(1918,0.40)(1920,0.39)(1922,0.38)(1924,0.37)(1926,0.36)(1927,0.40)(1929,0.41)(1931,0.43)(1933,0.41)(1935,0.44)(1936,0.39)(1937,0.45)(1939,0.49)(1941,0.49)(1943,0.49)(1945,0.50)(1947,0.47)(1948,0.49)(1950,0.47)(1952,0.49)(1954,0.50)(1956,0.46)(1958,0.41)(1960,0.38)(1962,0.41)(1964,0.47)(1966,0.51)(1968,0.53)(1970,0.58)(1972,0.64)(1974,0.66)(1976,0.66)(1978,0.67)(1980,0.68)(1981,0.66)(1983,0.65)};
\addlegendentry{SST\sub{DIPOLE}}
\addplot[fit=cpurp] coordinates {(1870,0.195) (2018,0.74)}; \addlegendentry{\plt}
\end{axis}

% ---------------- h
\begin{axis}[myaxis, rightcol, legUL, at={(556bp,49bp)}, ymin=0, ymax=1,
  legend style={at={(0.015,0.975)}},
  ytick={0,0.2,0.4,0.6,0.8,1}, yticklabels={0.0,0.2,0.4,0.6,0.8,1.0},
  ylabel={AC1 (ws = 70 yr)}, xlabel={Time [yr AD]}]
\addplot[ser=black] coordinates {(1935,0.58)(1936,0.60)(1937,0.65)(1939,0.67)(1941,0.70)(1942,0.71)(1944,0.71)(1946,0.70)(1948,0.70)(1950,0.71)(1952,0.72)(1954,0.71)(1956,0.70)(1958,0.69)(1960,0.67)(1961,0.66)(1962,0.65)(1963,0.69)(1965,0.70)(1967,0.70)(1968,0.71)(1970,0.77)(1972,0.78)(1974,0.785)(1976,0.785)(1978,0.79)(1980,0.79)(1981,0.80)(1982,0.79)(1984,0.795)};
\addlegendentry{S\sub{NN1}}
\addplot[fit=black] coordinates {(1900,0.545) (2018,0.895)}; \addlegendentry{\plt}
\addplot[ser=colive] coordinates {(1935,0.51)(1936,0.57)(1938,0.63)(1940,0.66)(1942,0.66)(1944,0.69)(1945,0.66)(1946,0.67)(1947,0.64)(1949,0.68)(1951,0.66)(1953,0.64)(1955,0.64)(1957,0.64)(1959,0.62)(1961,0.60)(1962,0.57)(1963,0.62)(1965,0.62)(1967,0.65)(1969,0.68)(1971,0.70)(1973,0.71)(1975,0.70)(1977,0.71)(1980,0.70)(1982,0.70)(1984,0.71)};
\addlegendentry{S\sub{NN2}}
\addplot[fit=colive] coordinates {(1900,0.52) (2018,0.78)}; \addlegendentry{\peq{0.002}}
\addplot[ser=corange] coordinates {(1935,0.20)(1937,0.24)(1938,0.27)(1940,0.27)(1942,0.26)(1944,0.26)(1945,0.24)(1946,0.26)(1948,0.24)(1949,0.23)(1950,0.28)(1952,0.33)(1954,0.36)(1956,0.37)(1957,0.40)(1958,0.46)(1959,0.55)(1961,0.56)(1963,0.56)(1965,0.57)(1966,0.56)(1967,0.52)(1968,0.53)(1970,0.58)(1972,0.60)(1974,0.60)(1976,0.62)(1978,0.61)(1980,0.62)(1982,0.59)(1984,0.56)};
\addlegendentry{S\sub{N}}
\addplot[fit=corange] coordinates {(1900,-0.15) (2018,1.03)}; \addlegendentry{\plt}
\addplot[ser=cred] coordinates {(1935,0.52)(1937,0.52)(1939,0.51)(1941,0.51)(1943,0.51)(1945,0.51)(1946,0.51)(1947,0.49)(1949,0.51)(1951,0.53)(1952,0.50)(1953,0.47)(1955,0.47)(1957,0.46)(1959,0.46)(1960,0.45)(1962,0.46)(1964,0.47)(1966,0.47)(1968,0.47)(1970,0.52)(1972,0.56)(1974,0.58)(1976,0.58)(1977,0.58)(1979,0.63)(1980,0.63)(1982,0.62)(1983,0.66)(1984,0.65)};
\addlegendentry{S\sub{S}}
\addplot[fit=cred] coordinates {(1900,0.385) (2018,0.66)}; \addlegendentry{\peq{0.128}}
\end{axis}

% titles and panel letters
\node[font=\bfseries\fontsize{18}{21}\selectfont, anchor=base] at (277,1004) {SST-based AMOC indices};
\node[font=\bfseries\fontsize{18}{21}\selectfont, anchor=base] at (754.5,1004) {Salinity-based AMOC indices};
\begin{scope}[every node/.style={font=\bfseries\fontsize{18}{21}\selectfont, anchor=base}]
\node at (20.5,985) {a};
\node at (496,985) {b};
\node at (13,737) {c};
\node at (502,737) {d};
\node at (25,490) {e};
\node at (504,490) {f};
\node at (25,243) {g};
\node at (502,243) {h};
\end{scope}
\end{tikzpicture}
\end{document}
